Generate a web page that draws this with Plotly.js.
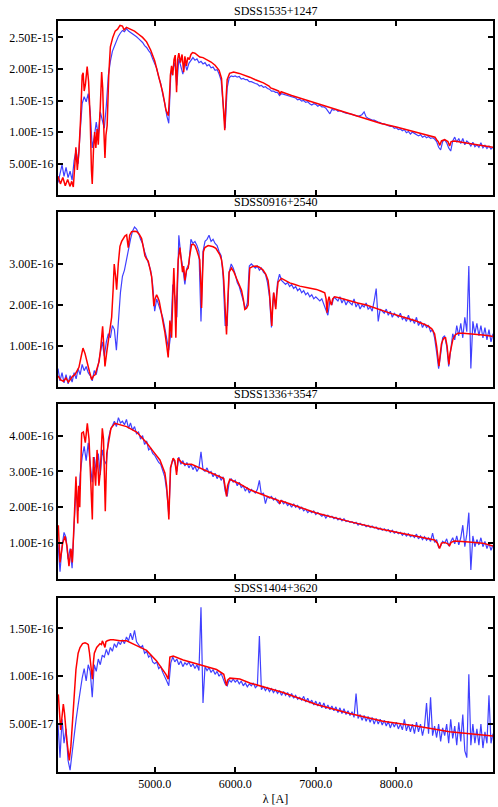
<!DOCTYPE html>
<html>
<head>
<meta charset="utf-8">
<script src="https://cdn.plot.ly/plotly-3.0.1.min.js"></script>
<style>
  html, body { margin: 0; padding: 0; background: #fff; }
  #container { width: 498px; height: 807px; }
</style>
</head>
<body>
<div id="container"></div>
<script>
// flux values are given in units of 1e-16 erg/s/cm2/A
var FLUX_UNIT = 1e-16;

// object names, one per panel (top to bottom)
var objectNames = ["SDSS1535+1247", "SDSS0916+2540", "SDSS1336+3547", "SDSS1404+3620"];

// observed spectra are sampled every 25 A starting at 3800 A
var obsStart = 3800;
var obsStep = 25;

// ---------- SDSS1535+1247 ----------
var obs1535 = [
  2.0, 3.6, 4.8, 3.0, 4.4, 2.8, 3.8, 2.4,          // 3800
  5.5, 7.2, 5.0, 10.0, 14.5, 15.6, 14.8, 16.1,     // 4000
  13.2, 7.5, 9.2, 11.6, 9.4, 13.2, 12.0, 10.6,     // 4200
  14.2, 19.0, 21.2, 22.8, 23.6, 24.5, 25.2, 25.7,  // 4400
  26.1, 25.9, 26.4, 26.0, 25.8, 25.6, 25.3, 25.1,  // 4600
  24.8, 24.5, 24.2, 23.7, 23.4, 22.9, 22.5, 21.6,  // 4800
  20.8, 20.1, 18.7, 17.7, 16.0, 14.6, 12.6, 11.4,  // 5000
  19.0, 19.9, 21.0, 17.4, 21.6, 20.4, 19.2, 21.0,  // 5200
  19.8, 20.9, 21.3, 21.8, 21.4, 21.6, 21.0, 21.2,  // 5400
  20.8, 21.0, 20.5, 20.7, 20.2, 20.3, 19.8, 19.9,  // 5600
  19.2, 18.2, 14.4, 10.6, 17.0, 18.6, 18.9, 18.8,  // 5800
  18.9, 18.7, 18.8, 18.4, 18.5, 18.3, 18.3, 18.0,  // 6000
  18.0, 17.8, 17.7, 17.6, 17.3, 17.4, 17.1, 17.2,  // 6200
  16.9, 16.8, 16.5, 16.5, 16.3, 16.3, 15.8, 16.1,  // 6400
  16.0, 15.8, 15.8, 15.6, 15.6, 15.4, 15.4, 15.1,  // 6600
  15.2, 14.9, 15.0, 14.7, 14.8, 14.5, 14.3, 14.5,  // 6800
  14.4, 14.1, 14.3, 14.0, 14.0, 13.8, 13.3, 12.9,  // 7000
  13.6, 13.5, 13.6, 13.3, 13.4, 13.2, 13.1, 13.0,  // 7200
  13.0, 12.9, 12.8, 12.7, 12.6, 12.5, 12.6, 12.8,  // 7400
  13.2, 12.4, 12.2, 12.0, 11.9, 11.9, 11.7, 11.6,  // 7600
  11.5, 11.3, 11.3, 11.1, 11.0, 10.9, 10.9, 10.6,  // 7800
  10.7, 10.4, 10.5, 10.2, 10.4, 9.9, 10.1, 9.7,    // 8000
  10.0, 9.8, 9.6, 9.4, 9.6, 9.2, 9.4, 9.1,         // 8200
  9.3, 9.0, 9.1, 8.9, 8.5, 7.6, 7.2, 8.5,          // 8400
  8.8, 8.3, 7.5, 7.0, 8.6, 9.2, 8.4, 9.0,          // 8600
  8.2, 9.0, 8.0, 8.6, 8.3, 7.8, 8.4, 7.7,          // 8800
  8.0, 7.6, 8.3, 7.5, 7.9, 7.4, 7.8, 7.3,          // 9000
  7.6                                              // 9200
];
var modelWave1535 = [
  3800, 3830, 3860, 3890, 3920, 3950, 3970, 3990, 4010, 4022,
  4040, 4060, 4080, 4100, 4112, 4125, 4140, 4162, 4180, 4200,
  4215, 4225, 4240, 4255, 4270, 4285, 4300, 4315, 4325, 4342,
  4355, 4370, 4383, 4395, 4410, 4430, 4450, 4480, 4510, 4540,
  4570, 4600, 4620, 4650, 4700, 4750, 4800, 4850, 4900, 4950,
  5000, 5050, 5100, 5140, 5170, 5185, 5195, 5210, 5225, 5240,
  5255, 5272, 5285, 5300, 5320, 5340, 5360, 5375, 5395, 5410,
  5430, 5450, 5470, 5500, 5530, 5560, 5600, 5650, 5700, 5750,
  5800, 5830, 5850, 5870, 5885, 5900, 5930, 5980, 6050, 6100,
  6180, 6250, 6350, 6420, 6440, 6500, 6540, 6555, 6570, 6700,
  6850, 7000, 7200, 7400, 7600, 7800, 8000, 8200, 8400, 8480,
  8500, 8520, 8540, 8560, 8600, 8640, 8662, 8680, 8720, 8800,
  8900, 9000, 9100, 9200
];
var modelFlux1535 = [
  3.0, 1.8, 2.8, 1.5, 2.5, 1.4, 2.2, 1.3, 5.0, 7.6,
  4.0, 7.0, 12.0, 19.0, 19.4, 16.5, 17.5, 20.4, 18.0, 12.0,
  4.0, 1.8, 7.0, 10.0, 7.5, 10.5, 8.0, 11.0, 14.0, 19.5,
  17.0, 10.0, 5.9, 9.5, 11.0, 19.0, 23.5, 25.0, 26.0, 26.3,
  26.9, 26.8, 26.2, 26.6, 26.3, 26.0, 25.5, 25.0, 24.3, 23.0,
  21.3, 19.0, 16.3, 13.5, 12.6, 16.0, 19.0, 20.5, 19.0, 21.5,
  22.2, 16.3, 21.5, 22.5, 21.0, 22.3, 19.5, 22.0, 20.5, 21.8,
  21.5, 22.3, 22.6, 22.5, 22.2, 21.9, 21.8, 21.5, 21.1, 20.6,
  19.8, 18.5, 14.0, 10.3, 15.0, 18.3, 19.3, 19.5, 19.3, 19.1,
  18.7, 18.3, 17.8, 17.3, 17.0, 16.7, 16.5, 16.0, 16.4, 15.8,
  15.2, 14.6, 13.8, 13.1, 12.3, 11.4, 10.8, 10.1, 9.5, 9.2,
  8.8, 8.5, 7.9, 8.6, 8.8, 8.5, 7.8, 8.5, 8.6, 8.4,
  8.2, 8.0, 7.8, 7.6
];

// ---------- SDSS0916+2540 ----------
var obs0916 = [
  0.45, 0.15, 0.35, 0.10, 0.30, 0.08, 0.28, 0.12,  // 3800
  0.35, 0.20, 0.45, 0.30, 0.55, 0.40, 0.50, 0.35,  // 4000
  0.28, 0.15, 0.40, 0.30, 0.55, 0.85, 1.10, 0.75,  // 4200
  1.10, 1.30, 1.20, 1.50, 1.40, 0.90, 1.60, 2.30,  // 4400
  2.70, 2.85, 3.10, 3.40, 3.60, 3.80, 3.90, 3.85,  // 4600
  3.75, 3.60, 3.50, 3.30, 3.15, 3.05, 2.85, 2.50,  // 4800
  1.85, 2.15, 2.00, 1.90, 1.70, 1.45, 1.20, 0.90,  // 5000
  1.30, 2.50, 2.20, 1.70, 3.70, 3.20, 2.90, 2.50,  // 5200
  2.90, 3.00, 3.60, 3.50, 3.55, 3.45, 3.30, 1.60,  // 5400
  3.30, 3.55, 3.60, 3.70, 3.55, 3.60, 3.50, 3.45,  // 5600
  3.30, 3.20, 2.70, 1.50, 1.50, 2.80, 3.00, 2.90,  // 5800
  2.75, 2.55, 2.45, 2.30, 2.10, 1.90, 2.05, 2.95,  // 6000
  3.00, 2.95, 2.90, 2.95, 2.85, 2.90, 2.80, 2.75,  // 6200
  2.55, 2.20, 1.45, 2.30, 1.95, 2.55, 2.75, 2.60,  // 6400
  2.55, 2.50, 2.55, 2.45, 2.50, 2.40, 2.45, 2.35,  // 6600
  2.40, 2.30, 2.35, 2.25, 2.30, 2.20, 2.25, 2.15,  // 6800
  2.20, 2.15, 2.10, 2.15, 2.00, 1.90, 1.75, 2.10,  // 7000
  2.00, 2.20, 2.15, 2.10, 2.20, 2.05, 2.15, 2.00,  // 7200
  2.10, 2.05, 2.00, 2.15, 1.95, 2.05, 1.90, 2.00,  // 7400
  1.95, 2.05, 1.90, 1.95, 1.85, 2.10, 2.40, 1.60,  // 7600
  1.90, 1.85, 1.80, 1.90, 1.75, 1.85, 1.70, 1.80,  // 7800
  1.75, 1.70, 1.80, 1.65, 1.70, 1.60, 1.75, 1.60,  // 8000
  1.65, 1.55, 1.70, 1.50, 1.60, 1.45, 1.55, 1.45,  // 8200
  1.50, 1.35, 1.40, 1.20, 0.85, 0.45, 0.80, 1.20,  // 8400
  1.25, 1.00, 0.50, 0.95, 1.30, 1.15, 1.50, 1.25,  // 8600
  1.55, 1.20, 1.70, 1.35, 2.95, 0.45, 1.60, 1.30,  // 8800
  1.55, 1.25, 1.50, 1.20, 1.45, 1.15, 1.40, 1.10,  // 9000
  1.30                                             // 9200
];
var modelWave0916 = [
  3800, 3830, 3866, 3900, 3930, 3950, 3980, 4010, 4035, 4060,
  4085, 4110, 4135, 4160, 4190, 4218, 4240, 4260, 4285, 4310,
  4330, 4354, 4370, 4383, 4405, 4424, 4445, 4466, 4485, 4498,
  4515, 4528, 4548, 4569, 4590, 4610, 4630, 4652, 4665, 4672,
  4690, 4714, 4745, 4776, 4810, 4838, 4860, 4879, 4900, 4920,
  4940, 4962, 4978, 4990, 5005, 5024, 5040, 5056, 5070, 5086,
  5105, 5127, 5150, 5168, 5180, 5189, 5200, 5210, 5225, 5238,
  5250, 5263, 5278, 5292, 5313, 5330, 5346, 5360, 5375, 5395,
  5416, 5435, 5458, 5480, 5499, 5520, 5540, 5560, 5575, 5582,
  5592, 5605, 5623, 5645, 5664, 5690, 5726, 5760, 5788, 5810,
  5830, 5845, 5858, 5875, 5892, 5905, 5924, 5953, 5985, 6015,
  6050, 6078, 6100, 6119, 6140, 6160, 6172, 6181, 6220, 6264,
  6300, 6346, 6380, 6408, 6425, 6437, 6454, 6466, 6478, 6492,
  6503, 6518, 6532, 6574, 6620, 6677, 6740, 6801, 6900, 7008,
  7060, 7111, 7128, 7140, 7152, 7165, 7180, 7194, 7210, 7235,
  7300, 7421, 7520, 7628, 7730, 7834, 7940, 8041, 8150, 8248,
  8320, 8392, 8440, 8475, 8500, 8515, 8529, 8545, 8560, 8578,
  8595, 8611, 8630, 8645, 8653, 8665, 8685, 8702, 8730, 8764,
  8830, 8909, 9000, 9074, 9150, 9198
];
var modelFlux0916 = [
  0.27, 0.18, 0.14, 0.22, 0.12, 0.17, 0.26, 0.30, 0.38, 0.48,
  0.72, 0.95, 0.82, 0.58, 0.38, 0.18, 0.27, 0.30, 0.45, 0.62,
  0.95, 1.48, 0.95, 0.50, 0.85, 1.10, 1.40, 1.70, 2.40, 3.00,
  2.70, 2.37, 3.00, 3.43, 3.55, 3.63, 3.68, 3.71, 3.55, 3.40,
  3.70, 3.79, 3.80, 3.79, 3.72, 3.62, 3.40, 3.20, 3.12, 3.07,
  2.90, 2.70, 2.30, 1.97, 2.15, 2.25, 2.18, 2.10, 1.95, 1.80,
  1.60, 1.33, 1.00, 0.72, 1.20, 1.62, 1.45, 1.20, 2.20, 2.90,
  2.20, 1.20, 2.40, 3.10, 3.40, 3.10, 2.80, 2.95, 2.60, 2.85,
  2.90, 3.20, 3.47, 3.48, 3.45, 3.35, 3.20, 3.10, 2.40, 1.93,
  2.60, 3.30, 3.40, 3.44, 3.45, 3.44, 3.42, 3.38, 3.30, 3.22,
  3.10, 2.90, 2.60, 1.90, 1.28, 2.00, 2.80, 2.90, 2.80, 2.65,
  2.50, 2.36, 2.15, 1.89, 1.92, 2.00, 2.60, 2.90, 2.94, 2.95,
  2.92, 2.85, 2.75, 2.60, 2.30, 1.89, 1.49, 2.00, 2.30, 2.10,
  1.90, 2.30, 2.56, 2.65, 2.60, 2.54, 2.50, 2.46, 2.42, 2.38,
  2.34, 2.30, 2.15, 1.81, 2.10, 2.20, 2.08, 2.00, 2.15, 2.20,
  2.17, 2.10, 2.05, 2.00, 1.93, 1.85, 1.79, 1.73, 1.67, 1.61,
  1.55, 1.49, 1.42, 1.30, 1.00, 0.70, 0.51, 0.80, 1.05, 1.15,
  1.20, 1.20, 1.00, 0.70, 0.55, 0.80, 1.05, 1.16, 1.27, 1.31,
  1.31, 1.30, 1.28, 1.27, 1.25, 1.23
];

// ---------- SDSS1336+3547 ----------
var obs1336 = [
  1.00, 0.20, 0.90, 1.30, 1.15, 0.55, 0.85, 0.30,  // 3800
  1.50, 2.60, 1.90, 2.90, 3.40, 3.70, 3.30, 3.80,  // 4000
  3.20, 2.70, 3.40, 3.00, 3.50, 2.90, 3.60, 3.30,  // 4200
  3.20, 3.90, 4.15, 4.30, 4.40, 4.25, 4.50, 4.35,  // 4400
  4.40, 4.30, 4.45, 4.20, 4.35, 4.15, 4.25, 4.05,  // 4600
  4.10, 3.90, 4.00, 3.75, 3.85, 3.60, 3.65, 3.50,  // 4800
  3.45, 3.35, 3.25, 3.20, 3.05, 2.85, 2.45, 1.80,  // 5000
  3.10, 3.35, 3.25, 3.00, 3.40, 3.20, 3.30, 3.15,  // 5200
  3.25, 3.10, 3.20, 3.05, 3.15, 3.00, 3.10, 3.55,  // 5400
  3.05, 3.00, 3.10, 2.95, 3.00, 2.85, 2.95, 2.80,  // 5600
  2.90, 2.75, 2.85, 2.45, 2.30, 2.70, 2.80, 2.70,  // 5800
  2.75, 2.60, 2.70, 2.55, 2.60, 2.45, 2.55, 2.40,  // 6000
  2.50, 2.45, 2.40, 2.50, 2.75, 2.35, 2.40, 2.10,  // 6200
  2.30, 2.25, 2.30, 2.20, 2.25, 2.15, 2.10, 2.20,  // 6400
  2.10, 2.15, 2.05, 2.10, 2.00, 2.10, 2.00, 2.05,  // 6600
  1.95, 2.00, 1.90, 1.95, 1.85, 1.90, 1.85, 1.90,  // 6800
  1.80, 1.85, 1.80, 1.75, 1.80, 1.70, 1.78, 1.72,  // 7000
  1.75, 1.68, 1.72, 1.65, 1.70, 1.62, 1.68, 1.60,  // 7200
  1.62, 1.58, 1.60, 1.55, 1.58, 1.50, 1.55, 1.50,  // 7400
  1.52, 1.46, 1.50, 1.44, 1.48, 1.42, 1.45, 1.38,  // 7600
  1.42, 1.36, 1.40, 1.34, 1.38, 1.30, 1.36, 1.28,  // 7800
  1.32, 1.26, 1.30, 1.22, 1.28, 1.20, 1.26, 1.18,  // 8000
  1.22, 1.16, 1.25, 1.12, 1.20, 1.10, 1.18, 1.08,  // 8200
  1.15, 1.05, 1.28, 1.02, 1.10, 0.88, 0.92, 1.05,  // 8400
  1.00, 1.12, 0.92, 1.05, 1.15, 0.98, 1.20, 0.95,  // 8600
  1.15, 1.50, 0.90, 1.25, 1.85, 0.25, 1.20, 0.90,  // 8800
  1.10, 0.95, 1.15, 0.90, 1.05, 0.85, 1.00, 0.80,  // 9000
  0.95                                             // 9200
];
var modelWave1336 = [
  3804, 3825, 3858, 3887, 3911, 3936, 3961, 3978, 3998, 4023,
  4036, 4045, 4056, 4070, 4094, 4115, 4139, 4164, 4185, 4205,
  4226, 4240, 4267, 4285, 4308, 4325, 4350, 4365, 4387, 4405,
  4430, 4457, 4507, 4570, 4652, 4776, 4900, 4982, 5065, 5127,
  5148, 5165, 5176, 5186, 5196, 5230, 5251, 5272, 5290, 5334,
  5375, 5458, 5561, 5664, 5768, 5858, 5880, 5892, 5905, 5933,
  6057, 6181, 6400, 6540, 6553, 6566, 6801, 7008, 7421, 7834,
  8248, 8475, 8510, 8537, 8560, 8600, 8640, 8661, 8680, 8723,
  8900, 9074, 9198
];
var modelFlux1336 = [
  1.50, 0.46, 1.00, 1.19, 0.92, 0.36, 0.84, 0.46, 1.48, 2.86,
  2.10, 1.55, 2.60, 2.00, 4.07, 4.10, 3.80, 4.34, 3.90, 2.96,
  1.66, 3.40, 2.60, 3.60, 2.60, 3.00, 4.20, 3.90, 1.89, 3.50,
  3.90, 4.20, 4.34, 4.30, 4.25, 4.10, 3.80, 3.56, 3.32, 2.96,
  2.60, 2.10, 1.66, 2.40, 3.10, 3.37, 3.30, 2.90, 3.37, 3.25,
  3.20, 3.20, 3.10, 3.00, 2.90, 2.80, 2.50, 2.30, 2.60, 2.78,
  2.65, 2.49, 2.30, 2.19, 2.10, 2.18, 2.00, 1.84, 1.60, 1.38,
  1.19, 1.09, 1.00, 0.85, 1.00, 1.02, 0.98, 0.93, 1.02, 1.06,
  1.03, 1.00, 0.92
];

// ---------- SDSS1404+3620 ----------
var obs1404 = [
  0.50, 0.15, 0.55, 0.30, 0.45, 0.12, 0.02, 0.20,  // 3800
  0.42, 0.55, 0.70, 0.85, 0.98, 1.08, 0.95, 1.12,  // 4000
  1.05, 0.78, 1.12, 1.05, 1.18, 1.12, 1.22, 1.20,  // 4200
  1.28, 1.22, 1.30, 1.26, 1.34, 1.30, 1.36, 1.33,  // 4400
  1.38, 1.34, 1.41, 1.37, 1.45, 1.38, 1.48, 1.36,  // 4600
  1.33, 1.30, 1.32, 1.24, 1.26, 1.20, 1.22, 1.15,  // 4800
  1.13, 1.15, 1.08, 1.10, 1.04, 1.00, 0.95, 0.90,  // 5000
  1.14, 1.20, 1.15, 1.18, 1.12, 1.16, 1.10, 1.14,  // 5200
  1.12, 1.15, 1.10, 1.13, 1.08, 1.12, 1.06, 1.72,  // 5400
  0.72, 1.10, 1.06, 1.09, 1.04, 1.07, 1.02, 1.05,  // 5600
  1.00, 1.03, 0.98, 0.92, 0.90, 0.96, 0.94, 0.97,  // 5800
  0.94, 0.96, 0.92, 0.95, 0.90, 0.93, 0.89, 0.92,  // 6000
  0.90, 0.93, 0.88, 0.90, 1.42, 0.86, 0.89, 0.85,  // 6200
  0.88, 0.84, 0.87, 0.83, 0.86, 0.82, 0.85, 0.80,  // 6400
  0.84, 0.80, 0.83, 0.78, 0.82, 0.77, 0.80, 0.76,  // 6600
  0.78, 0.75, 0.79, 0.73, 0.77, 0.72, 0.75, 0.70,  // 6800
  0.74, 0.69, 0.73, 0.67, 0.72, 0.66, 0.70, 0.65,  // 7000
  0.69, 0.64, 0.68, 0.62, 0.67, 0.61, 0.66, 0.60,  // 7200
  0.64, 0.59, 0.63, 0.57, 0.82, 0.56, 0.60, 0.54,  // 7400
  0.59, 0.53, 0.58, 0.52, 0.57, 0.50, 0.56, 0.50,  // 7600
  0.55, 0.49, 0.54, 0.48, 0.53, 0.46, 0.52, 0.47,  // 7800
  0.52, 0.45, 0.50, 0.44, 0.55, 0.43, 0.50, 0.42,  // 8000
  0.50, 0.40, 0.52, 0.42, 0.50, 0.38, 0.48, 0.72,  // 8200
  0.40, 0.78, 0.38, 0.48, 0.36, 0.50, 0.32, 0.46,  // 8400
  0.38, 0.50, 0.30, 0.55, 0.35, 0.48, 0.28, 0.52,  // 8600
  0.32, 0.60, 0.22, 0.15, 1.02, 0.28, 0.50, 0.30,  // 8800
  0.45, 0.28, 0.50, 0.25, 0.42, 0.30, 0.80, 0.30,  // 9000
  0.40                                             // 9200
];
var modelWave1404 = [
  3804, 3833, 3866, 3880, 3910, 3940, 3960, 3990, 4023, 4050,
  4073, 4105, 4135, 4160, 4176, 4190, 4205, 4226, 4240, 4251,
  4280, 4300, 4321, 4340, 4350, 4362, 4375, 4383, 4395, 4412,
  4450, 4486, 4569, 4652, 4776, 4900, 5024, 5106, 5140, 5168,
  5180, 5189, 5230, 5354, 5561, 5768, 5858, 5880, 5892, 5905,
  5933, 6057, 6181, 6594, 7008, 7421, 7834, 8248, 8537, 8661,
  9198
];
var modelFlux1404 = [
  0.81, 0.44, 0.71, 0.62, 0.33, 0.12, 0.27, 0.69, 1.07, 1.24,
  1.30, 1.34, 1.35, 1.34, 1.33, 1.25, 1.10, 0.97, 1.15, 1.24,
  1.30, 1.32, 1.34, 1.33, 1.37, 1.35, 1.31, 1.30, 1.36, 1.37,
  1.38, 1.38, 1.37, 1.37, 1.32, 1.27, 1.16, 1.07, 1.02, 0.97,
  1.12, 1.20, 1.21, 1.17, 1.12, 1.07, 1.02, 0.95, 0.90, 0.96,
  0.98, 0.97, 0.93, 0.83, 0.705, 0.61, 0.53, 0.48, 0.44, 0.42,
  0.375
];

// y tick labels for each panel (flux in units of 1e-16)
var yTickVals = [
  [5, 10, 15, 20, 25],
  [1, 2, 3],
  [1, 2, 3, 4],
  [0.5, 1.0, 1.5]
];
var yTickText = [
  ["5.00E-16", "1.00E-15", "1.50E-15", "2.00E-15", "2.50E-15"],
  ["1.00E-16", "2.00E-16", "3.00E-16"],
  ["1.00E-16", "2.00E-16", "3.00E-16", "4.00E-16"],
  ["5.00E-17", "1.00E-16", "1.50E-16"]
];
var yTop = [27.6, 4.26, 4.88, 1.82];

var xTickVals = [5000, 6000, 7000, 8000];
var xTickText = ["5000.0", "6000.0", "7000.0", "8000.0"];

var observed = [obs1535, obs0916, obs1336, obs1404];
var modelWave = [modelWave1535, modelWave0916, modelWave1336, modelWave1404];
var modelFlux = [modelFlux1535, modelFlux0916, modelFlux1336, modelFlux1404];

// panel positions (paper fractions), top panel first
var domains = [[0.768, 1.0], [0.5126, 0.7453], [0.2570, 0.4900], [0.0, 0.2321]];

var FONT = "Liberation Serif";

function toFlux(arr) {
  return arr.map(function (v) { return v * FLUX_UNIT; });
}

var data = [];
var layout = {
  width: 498,
  height: 807,
  margin: {l: 58, r: 5, t: 21, b: 35},
  paper_bgcolor: "#ffffff",
  plot_bgcolor: "#ffffff",
  showlegend: false,
  font: {family: FONT, size: 12, color: "#000000"},
  annotations: []
};

for (var p = 0; p < 4; p++) {
  var suffix = p === 0 ? "" : String(p + 1);
  var xName = "x" + suffix;
  var yName = "y" + suffix;

  // wavelength grid of the observed spectrum
  var obsWave = observed[p].map(function (v, i) { return obsStart + i * obsStep; });

  data.push({
    x: obsWave,
    y: toFlux(observed[p]),
    xaxis: xName,
    yaxis: yName,
    type: "scatter",
    mode: "lines",
    line: {color: "rgba(0, 0, 255, 0.75)", width: 1.2},
    hoverinfo: "skip"
  });
  data.push({
    x: modelWave[p],
    y: toFlux(modelFlux[p]),
    xaxis: xName,
    yaxis: yName,
    type: "scatter",
    mode: "lines",
    line: {color: "#ff0000", width: 1.5},
    hoverinfo: "skip"
  });

  var common = {
    showgrid: false,
    zeroline: false,
    showline: true,
    mirror: "ticks",
    linecolor: "#000000",
    linewidth: 2,
    ticks: "inside",
    ticklen: 5,
    tickwidth: 2,
    tickcolor: "#000000",
    tickfont: {family: FONT, size: 12, color: "#000000"}
  };

  var xaxis = Object.assign({}, common, {
    domain: [0, 1],
    anchor: yName,
    range: [3800, 9200],
    tickmode: "array",
    tickvals: xTickVals,
    ticktext: xTickText,
    showticklabels: p === 3
  });
  if (p === 3) {
    xaxis.title = {text: "λ [A]", font: {family: FONT, size: 12, color: "#000000"}, standoff: 4};
  }
  var yaxis = Object.assign({}, common, {
    domain: domains[p],
    anchor: xName,
    range: [0, yTop[p] * FLUX_UNIT],
    tickmode: "array",
    tickvals: toFlux(yTickVals[p]),
    ticktext: yTickText[p]
  });

  layout["xaxis" + suffix] = xaxis;
  layout["yaxis" + suffix] = yaxis;

  // panel title above each box
  layout.annotations.push({
    text: objectNames[p],
    xref: "paper",
    yref: "paper",
    x: 0.5,
    y: domains[p][1],
    xanchor: "center",
    yanchor: "bottom",
    yshift: 1,
    showarrow: false,
    font: {family: FONT, size: 12, color: "#000000"}
  });
}

Plotly.newPlot("container", data, layout, {staticPlot: true, displayModeBar: false});
</script>
</body>
</html>
